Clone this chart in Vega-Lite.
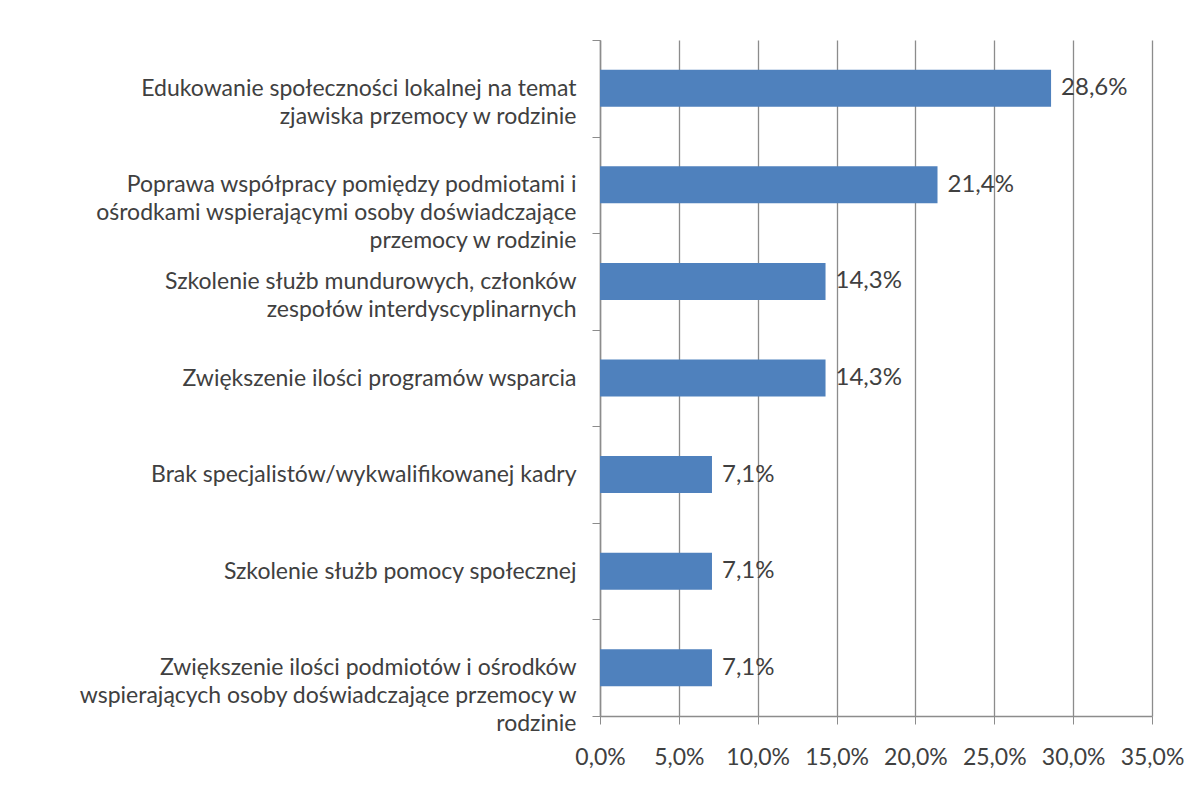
{
  "$schema": "https://vega.github.io/schema/vega-lite/v6.json",
  "width": 552,
  "height": 676,
  "autosize": "none",
  "padding": {"left": 600, "top": 40, "right": 52, "bottom": 76},
  "background": "white",
  "config": {
    "view": {"stroke": null},
    "font": "Lato",
    "locale": {"number": {"decimal": ",", "thousands": " ", "grouping": [3], "currency": ["", " zł"]}}
  },
  "data": {"values": [
    {"cat": "Edukowanie społeczności lokalnej na temat|zjawiska przemocy w rodzinie", "value": 0.286},
    {"cat": "Poprawa współpracy pomiędzy podmiotami i|ośrodkami wspierającymi osoby doświadczające|przemocy w rodzinie", "value": 0.214},
    {"cat": "Szkolenie służb mundurowych, członków|zespołów interdyscyplinarnych", "value": 0.143},
    {"cat": "Zwiększenie ilości programów wsparcia", "value": 0.143},
    {"cat": "Brak specjalistów/wykwalifikowanej kadry", "value": 0.071},
    {"cat": "Szkolenie służb pomocy społecznej", "value": 0.071},
    {"cat": "Zwiększenie ilości podmiotów i ośrodków|wspierających osoby doświadczające przemocy w|rodzinie", "value": 0.071}
  ]},
  "encoding": {
    "y": {
      "field": "cat", "type": "nominal", "sort": null,
      "scale": {"paddingInner": 0, "paddingOuter": 0},
      "axis": {
        "title": null,
        "labelExpr": "split(datum.label, '|')",
        "labelFont": "Lato",
        "labelFontSize": 23,
        "labelColor": "#404040",
        "labelLineHeight": 28,
        "labelAlign": "right",
        "labelBaseline": "middle",
        "labelLimit": 700,
        "labelPadding": 16,
        "tickBand": "extent",
        "tickSize": 8,
        "tickColor": "#8c8c8c",
        "domainColor": "#8c8c8c",
        "domainWidth": 1.5,
        "grid": false
      }
    }
  },
  "layer": [
    {
      "mark": {"type": "bar", "color": "#4F81BD", "size": 37},
      "encoding": {
        "x": {
          "field": "value", "type": "quantitative",
          "scale": {"domain": [0, 0.35], "nice": false, "zero": true},
          "axis": {
            "title": null,
            "values": [0, 0.05, 0.1, 0.15, 0.2, 0.25, 0.3, 0.35],
            "format": ".1%",
            "grid": true,
            "gridColor": "#8c8c8c",
            "gridWidth": 1.3,
            "domainColor": "#8c8c8c",
            "domainWidth": 1.5,
            "tickColor": "#8c8c8c",
            "tickSize": 8,
            "labelPadding": 22,
            "labelOverlap": false,
            "labelFlush": false,
            "labelFont": "Lato",
            "labelFontSize": 23,
            "labelColor": "#404040",
            "labelBaseline": "top"
          }
        }
      }
    },
    {
      "mark": {"type": "text", "align": "left", "baseline": "middle", "dx": 10, "fontSize": 24, "font": "Lato", "color": "#404040"},
      "encoding": {
        "x": {"field": "value", "type": "quantitative"},
        "text": {"field": "value", "type": "quantitative", "format": ".1%"}
      }
    }
  ]
}
